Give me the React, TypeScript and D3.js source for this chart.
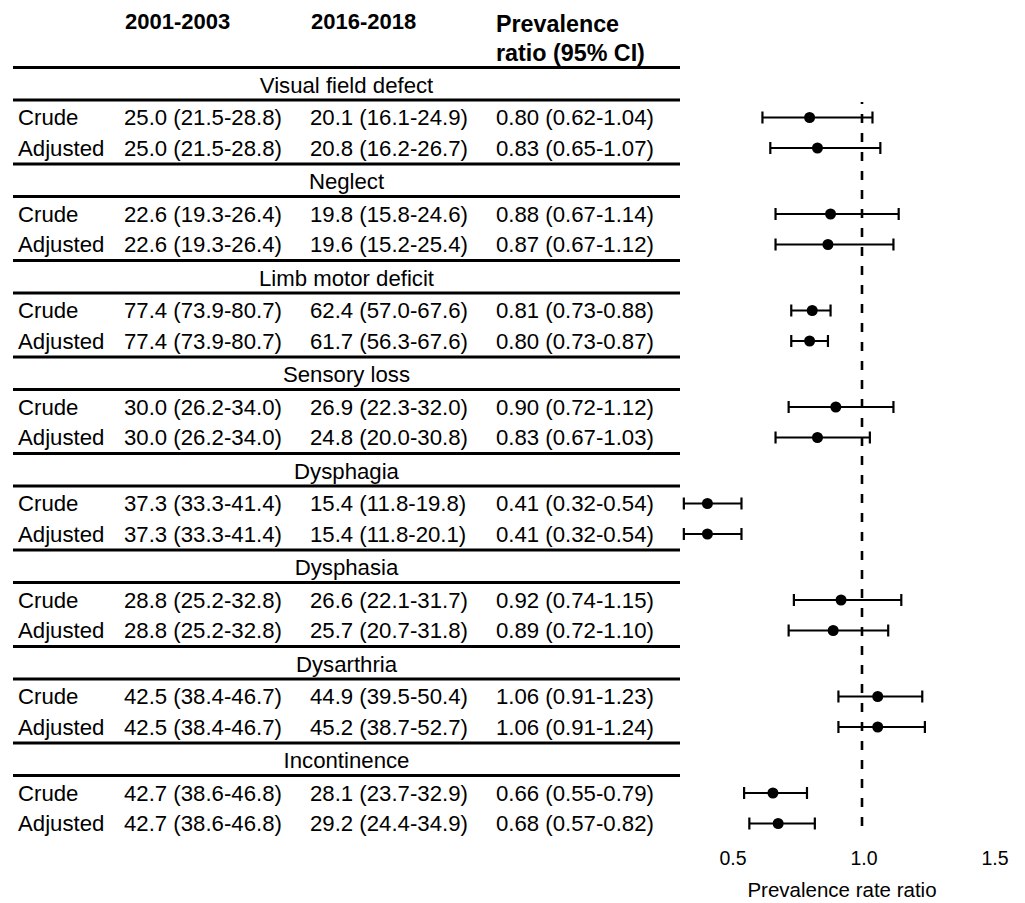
import React from "react";
import * as d3 from "d3";

const groups = ["Visual field defect", "Neglect", "Limb motor deficit", "Sensory loss", "Dysphagia", "Dysphasia", "Dysarthria", "Incontinence"];
const rowTypes = ["Crude", "Adjusted"];

// 2001-2003 prevalence (%) per row: crude, adjusted for each group
const p1Est = [25.0, 25.0, 22.6, 22.6, 77.4, 77.4, 30.0, 30.0, 37.3, 37.3, 28.8, 28.8, 42.5, 42.5, 42.7, 42.7];
const p1Lo = [21.5, 21.5, 19.3, 19.3, 73.9, 73.9, 26.2, 26.2, 33.3, 33.3, 25.2, 25.2, 38.4, 38.4, 38.6, 38.6];
const p1Hi = [28.8, 28.8, 26.4, 26.4, 80.7, 80.7, 34.0, 34.0, 41.4, 41.4, 32.8, 32.8, 46.7, 46.7, 46.8, 46.8];

// 2016-2018 prevalence (%)
const p2Est = [20.1, 20.8, 19.8, 19.6, 62.4, 61.7, 26.9, 24.8, 15.4, 15.4, 26.6, 25.7, 44.9, 45.2, 28.1, 29.2];
const p2Lo = [16.1, 16.2, 15.8, 15.2, 57.0, 56.3, 22.3, 20.0, 11.8, 11.8, 22.1, 20.7, 39.5, 38.7, 23.7, 24.4];
const p2Hi = [24.9, 26.7, 24.6, 25.4, 67.6, 67.6, 32.0, 30.8, 19.8, 20.1, 31.7, 31.8, 50.4, 52.7, 32.9, 34.9];

// Prevalence ratio (95% CI)
const prEst = [0.80, 0.83, 0.88, 0.87, 0.81, 0.80, 0.90, 0.83, 0.41, 0.41, 0.92, 0.89, 1.06, 1.06, 0.66, 0.68];
const prLo = [0.62, 0.65, 0.67, 0.67, 0.73, 0.73, 0.72, 0.67, 0.32, 0.32, 0.74, 0.72, 0.91, 0.91, 0.55, 0.57];
const prHi = [1.04, 1.07, 1.14, 1.12, 0.88, 0.87, 1.12, 1.03, 0.54, 0.54, 1.15, 1.10, 1.23, 1.24, 0.79, 0.82];

const xTicks = [0.5, 1.0, 1.5];
const headers = ["2001-2003", "2016-2018"];

const FONT = "'Liberation Sans', Arial, sans-serif";

export default function App() {
  const W = 1025, H = 903;
  const x = d3.scaleLinear().domain([0.5, 1.5]).range([731, 993]);
  const groupTop = (g: number) => 67.5 + g * 96.5; // y of thick line above group label
  const rowY = (i: number) => {
    const g = Math.floor(i / 2);
    const r = i % 2;
    return groupTop(g) + 50 + r * 30.5;
  };
  const fmt1 = d3.format(".1f");
  const fmt2 = d3.format(".2f");
  const fs = 22.2;
  const colX = [18, 124, 310, 496];
  const lineX1 = 13, lineX2 = 680;

  return (
    <svg width={W} height={H} viewBox={`0 0 ${W} ${H}`} style={{ position: "absolute", left: 0, top: 0, background: "#fff" }} fontFamily={FONT}>
      {/* headers */}
      {headers.map((h, i) => (
        <text key={h} x={colX[i + 1] + 1} y={28.5} fontSize={22} fontWeight="bold" fill="#000">{h}</text>
      ))}
      <text x={colX[3]} y={31.5} fontSize={23.3} fontWeight="bold" fill="#000">Prevalence</text>
      <text x={colX[3]} y={60.5} fontSize={23.3} fontWeight="bold" fill="#000">ratio (95% CI)</text>

      {groups.map((g, gi) => {
        const t = groupTop(gi);
        return (
          <g key={g}>
            <line x1={lineX1} x2={lineX2} y1={t} y2={t} stroke="#000" strokeWidth={3} />
            <text x={(lineX1 + lineX2) / 2} y={t + 25} fontSize={fs} textAnchor="middle" fill="#000">{g}</text>
            <line x1={lineX1} x2={lineX2} y1={t + 32.5} y2={t + 32.5} stroke="#000" strokeWidth={3} />
          </g>
        );
      })}

      {prEst.map((_, i) => {
        const y = rowY(i);
        return (
          <g key={i}>
            <text x={colX[0]} y={y + 7.8} fontSize={fs} fill="#000">{rowTypes[i % 2]}</text>
            <text x={colX[1]} y={y + 7.8} fontSize={fs} fill="#000">{`${fmt1(p1Est[i])} (${fmt1(p1Lo[i])}-${fmt1(p1Hi[i])})`}</text>
            <text x={colX[2]} y={y + 7.8} fontSize={fs} fill="#000">{`${fmt1(p2Est[i])} (${fmt1(p2Lo[i])}-${fmt1(p2Hi[i])})`}</text>
            <text x={colX[3]} y={y + 7.8} fontSize={fs} fill="#000">{`${fmt2(prEst[i])} (${fmt2(prLo[i])}-${fmt2(prHi[i])})`}</text>
          </g>
        );
      })}

      {/* reference line */}
      <line x1={x(1)} x2={x(1)} y1={102} y2={836} stroke="#000" strokeWidth={2.6} strokeDasharray="9,10" strokeDashoffset={7} />

      {/* forest plot */}
      {prEst.map((v, i) => {
        const y = rowY(i);
        return (
          <g key={"f" + i} stroke="#000" strokeWidth={2.2}>
            <line x1={x(prLo[i])} x2={x(prHi[i])} y1={y} y2={y} />
            <line x1={x(prLo[i])} x2={x(prLo[i])} y1={y - 6} y2={y + 6} />
            <line x1={x(prHi[i])} x2={x(prHi[i])} y1={y - 6} y2={y + 6} />
            <circle cx={x(v)} cy={y} r={5.5} fill="#000" stroke="none" />
          </g>
        );
      })}

      {xTicks.map((t) => (
        <text key={t} x={x(t) + 2} y={865} fontSize={19.5} textAnchor="middle" fill="#000">{d3.format(".1f")(t)}</text>
      ))}
      <text x={842} y={897} fontSize={20.5} textAnchor="middle" fill="#000">Prevalence rate ratio</text>
    </svg>
  );
}
